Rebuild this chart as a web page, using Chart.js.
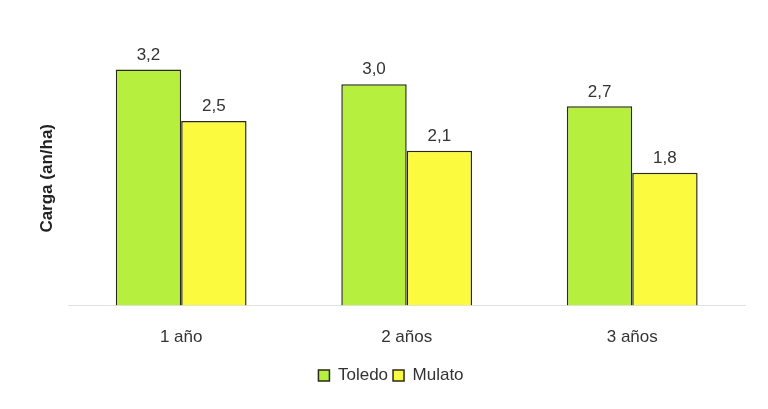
<!DOCTYPE html>
<html>
<head>
<meta charset="utf-8">
<script src="https://cdn.jsdelivr.net/npm/chart.js@4"></script>
<style>
html,body{margin:0;padding:0;background:#fff;}
#wrap{width:768px;height:409px;}
</style>
</head>
<body>
<div id="wrap"><canvas id="chart"></canvas></div>
<script>
const categories = ["1 año", "2 años", "3 años"];
const toledo = [3.2, 3.0, 2.7];
const mulato = [2.5, 2.1, 1.8];
const seriesNames = ["Toledo", "Mulato"];

const FONT = "'Liberation Sans', Arial, sans-serif";

// writes the value above each bar, comma decimals
const valueLabels = {
    id: "valueLabels",
    afterDatasetsDraw(chart) {
        const ctx = chart.ctx;
        ctx.save();
        ctx.font = "17px " + FONT;
        ctx.fillStyle = "#333";
        ctx.textAlign = "center";
        ctx.textBaseline = "bottom";
        chart.data.datasets.forEach((ds, i) => {
            chart.getDatasetMeta(i).data.forEach((bar, j) => {
                ctx.fillText(ds.data[j].toFixed(1).replace(".", ","), bar.x, bar.y - 6);
            });
        });
        ctx.restore();
    }
};

new Chart(document.getElementById("chart"), {
    type: "bar",
    data: {
        labels: categories,
        datasets: [{
            label: seriesNames[0],
            data: toledo,
            backgroundColor: "#b6ef3e",
            borderColor: "#2a2a1a",
            borderWidth: 1.5
        }, {
            label: seriesNames[1],
            data: mulato,
            backgroundColor: "#fbfa3e",
            borderColor: "#2a2a1a",
            borderWidth: 1.5
        }]
    },
    options: {
        responsive: true,
        maintainAspectRatio: false,
        animation: false,
        layout: { padding: { top: 51, left: 37, right: 23, bottom: 15 } },
        datasets: { bar: { barPercentage: 1, categoryPercentage: 0.58 } },
        plugins: {
            tooltip: { enabled: false },
            legend: {
                position: "bottom",
                labels: {
                    color: "#333",
                    font: { size: 17, family: FONT },
                    boxWidth: 11,
                    boxHeight: 11,
                    padding: 5
                }
            }
        },
        scales: {
            x: {
                grid: { display: false },
                border: { display: true, color: "#e2e2e2" },
                ticks: {
                    color: "#333",
                    padding: 14,
                    font: { size: 17, family: FONT }
                }
            },
            y: {
                min: 0,
                max: 3.45,
                grid: { display: false },
                border: { display: false },
                ticks: { display: false },
                title: {
                    display: true,
                    text: "Carga (an/ha)",
                    color: "#222",
                    font: { size: 17, weight: "bold", family: FONT },
                    padding: { top: 0, bottom: 3 }
                }
            }
        }
    },
    plugins: [valueLabels]
});
</script>
</body>
</html>
